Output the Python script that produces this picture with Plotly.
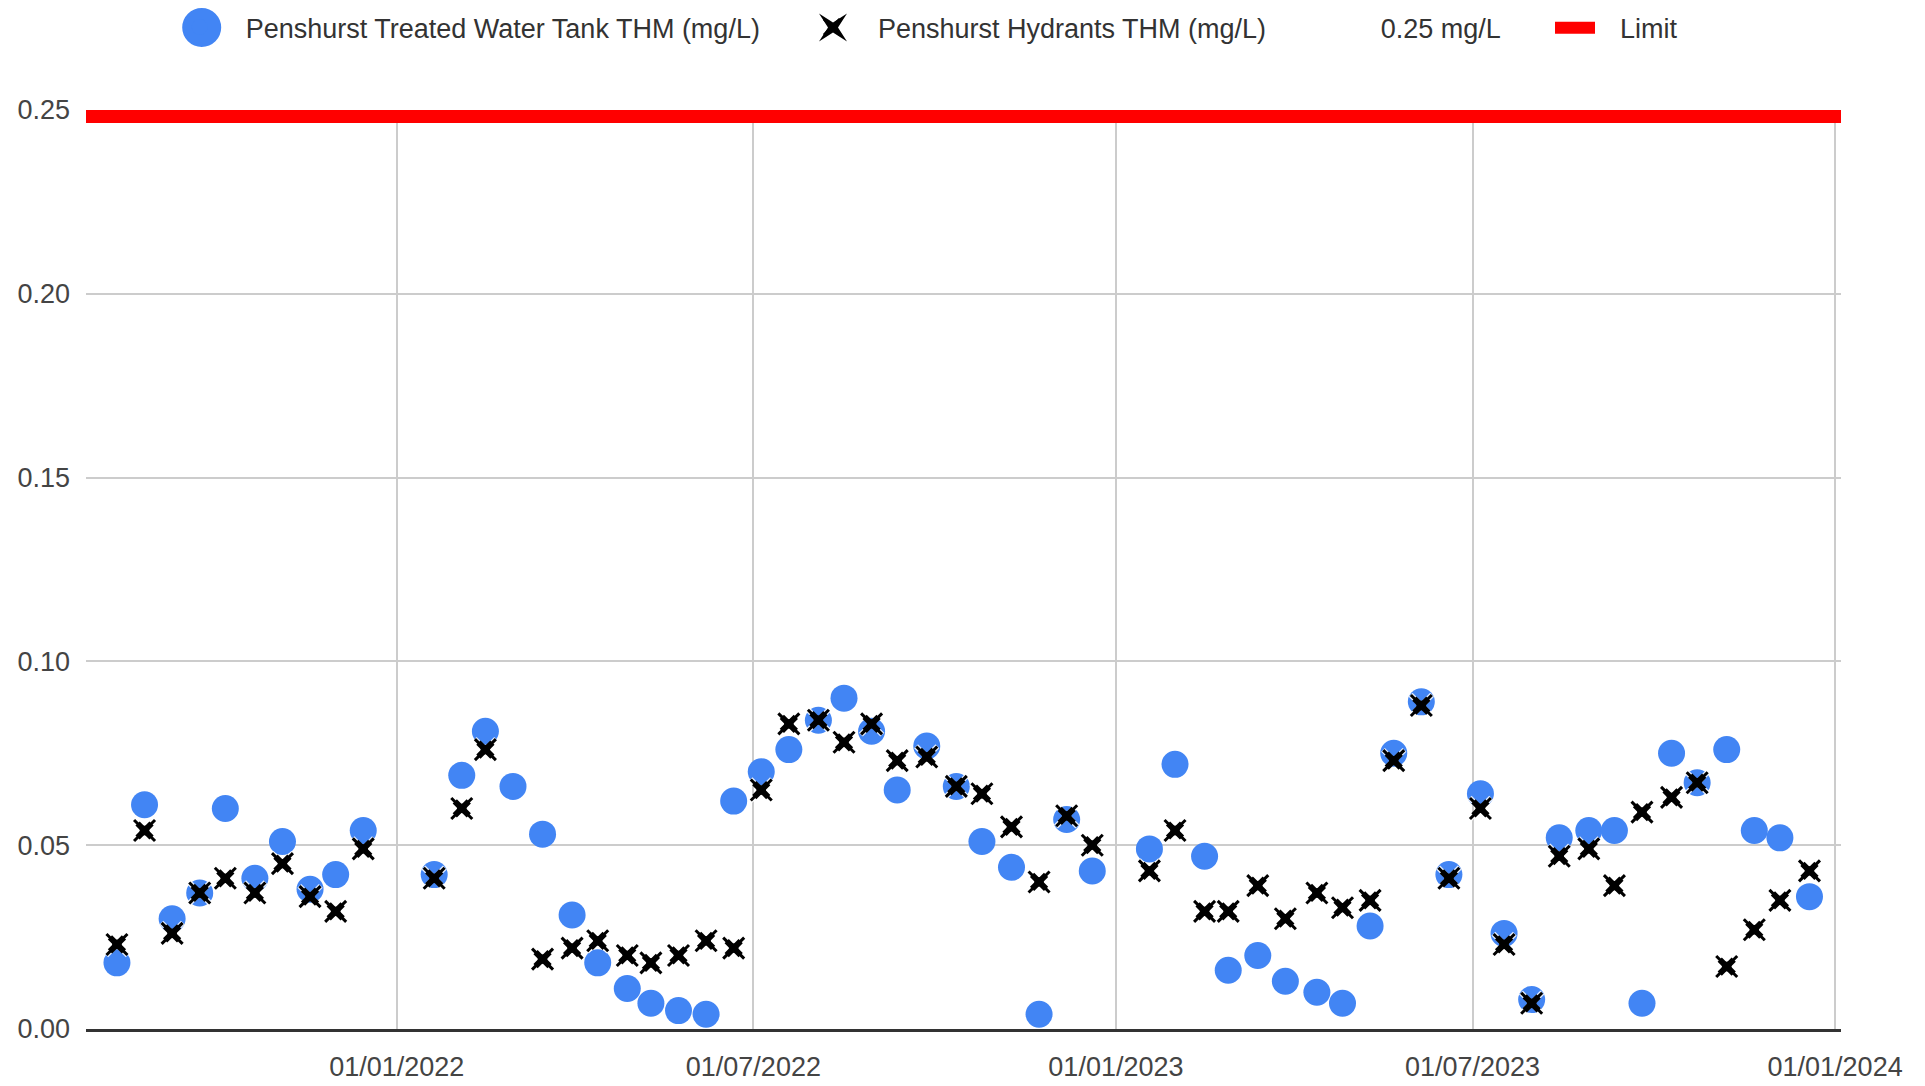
import plotly.graph_objects as go

# ---------------- data ----------------
sample_dates = [
    "2021-08-12", "2021-08-26", "2021-09-09", "2021-09-23", "2021-10-06",
    "2021-10-21", "2021-11-04", "2021-11-18", "2021-12-01", "2021-12-15",
    "2022-01-20", "2022-02-03", "2022-02-15", "2022-03-01", "2022-03-16",
    "2022-03-31", "2022-04-13", "2022-04-28", "2022-05-10", "2022-05-24",
    "2022-06-07", "2022-06-21", "2022-07-05", "2022-07-19", "2022-08-03",
    "2022-08-16", "2022-08-30", "2022-09-12", "2022-09-27", "2022-10-12",
    "2022-10-25", "2022-11-09", "2022-11-23", "2022-12-07", "2022-12-20",
    "2023-01-18", "2023-01-31", "2023-02-15", "2023-02-27", "2023-03-14",
    "2023-03-28", "2023-04-13", "2023-04-26", "2023-05-10", "2023-05-22",
    "2023-06-05", "2023-06-19", "2023-07-05", "2023-07-17", "2023-07-31",
    "2023-08-14", "2023-08-29", "2023-09-11", "2023-09-25", "2023-10-10",
    "2023-10-23", "2023-11-07", "2023-11-21", "2023-12-04", "2023-12-19",
]

tank_thm = [
    0.018, 0.061, 0.030, 0.037, 0.060, 0.041, 0.051, 0.038, 0.042, 0.054,
    0.042, 0.069, 0.081, 0.066, 0.053, 0.031, 0.018, 0.011, 0.007, 0.005,
    0.004, 0.062, 0.070, 0.076, 0.084, 0.090, 0.081, 0.065, 0.077, 0.066,
    0.051, 0.044, 0.004, 0.057, 0.043, 0.049, 0.072, 0.047, 0.016, 0.020,
    0.013, 0.010, 0.007, 0.028, 0.075, 0.089, 0.042, 0.064, 0.026, 0.008,
    0.052, 0.054, 0.054, 0.007, 0.075, 0.067, 0.076, 0.054, 0.052, 0.036,
]

hydrant_thm = [
    0.023, 0.054, 0.026, 0.037, 0.041, 0.037, 0.045, 0.036, 0.032, 0.049,
    0.041, 0.060, 0.076, None, 0.019, 0.022, 0.024, 0.020, 0.018, 0.020,
    0.024, 0.022, 0.065, 0.083, 0.084, 0.078, 0.083, 0.073, 0.074, 0.066,
    0.064, 0.055, 0.040, 0.058, 0.050, 0.043, 0.054, 0.032, 0.032, 0.039,
    0.030, 0.037, 0.033, 0.035, 0.073, 0.088, 0.041, 0.060, 0.023, 0.007,
    0.047, 0.049, 0.039, 0.059, 0.063, 0.067, 0.017, 0.027, 0.035, 0.043,
]

limit_dates = ["2021-07-01", "2024-02-01"]
limit_values = [0.25, 0.25]

x_tick_dates = ["2022-01-01", "2022-07-01", "2023-01-01", "2023-07-01", "2024-01-01"]
x_tick_labels = ["01/01/2022", "01/07/2022", "01/01/2023", "01/07/2023", "01/01/2024"]
y_tick_values = [0.00, 0.05, 0.10, 0.15, 0.20, 0.25]

series_names = [
    "Penshurst Treated Water Tank THM (mg/L)",
    "Penshurst Hydrants THM (mg/L)",
    "0.25 mg/L",
    "Limit",
]

# ---------------- style ----------------
W, H = 1925, 1086
ML, MR, MT, MB = 86, 84, 110, 57
PW, PH = W - ML - MR, H - MT - MB
FONT = "Liberation Sans, Arial, sans-serif"
BLUE = "#4285F4"
RED = "#FF0000"
TEXT = "#444444"

fig = go.Figure()

fig.add_trace(go.Scatter(
    x=sample_dates, y=tank_thm, name=series_names[0], mode="markers",
    marker=dict(symbol="circle", size=27, color=BLUE, line=dict(width=0)),
    legend="legend",
))
# hydrant "sparkle X": white halo, thin long arms, thicker short arms, solid centre
fig.add_trace(go.Scatter(
    x=sample_dates, y=hydrant_thm, name=series_names[1], mode="markers",
    marker=dict(symbol="x-thin", size=21.5, color="#ffffff",
                line=dict(width=5.5, color="rgba(255,255,255,0.85)")),
    showlegend=False, hoverinfo="skip",
))
fig.add_trace(go.Scatter(
    x=sample_dates, y=hydrant_thm, name=series_names[1], mode="markers",
    marker=dict(symbol="x-thin", size=21, color="#000000",
                line=dict(width=3, color="#000000")),
    legend="legend2",
))
fig.add_trace(go.Scatter(
    x=sample_dates, y=hydrant_thm, name=series_names[1], mode="markers",
    marker=dict(symbol="x-thin", size=14, color="#000000",
                line=dict(width=6, color="#000000")),
    showlegend=False, hoverinfo="skip",
))
fig.add_trace(go.Scatter(
    x=sample_dates, y=hydrant_thm, name=series_names[1], mode="markers",
    marker=dict(symbol="star-diamond", angle=45, size=13.5, color="#000000",
                line=dict(width=0)),
    showlegend=False, hoverinfo="skip",
))
fig.add_trace(go.Scatter(
    x=limit_dates, y=limit_values, name=series_names[2], mode="lines",
    line=dict(width=0, color="rgba(0,0,0,0)"),
    legend="legend3",
))
fig.add_trace(go.Scatter(
    x=limit_dates, y=limit_values, name=series_names[3], mode="lines",
    line=dict(width=26, color=RED), showlegend=False,
))
# legend entry for the limit line (square key as in the original)
fig.add_trace(go.Scatter(
    x=[None], y=[None], name=series_names[3], mode="markers",
    marker=dict(symbol="square", size=10, color=RED),
    legend="legend4",
))

ITEMW = 82
LEG_Y = 1 - 27.5 / H


def legend_cfg(x_px):
    return dict(
        x=x_px / W, xref="container", xanchor="left",
        y=LEG_Y, yref="container", yanchor="middle",
        orientation="h", itemwidth=ITEMW, bgcolor="rgba(0,0,0,0)",
        borderwidth=0, font=dict(family=FONT, size=27, color="#333333"),
        itemclick=False, itemdoubleclick=False,
    )


def px_to_paper_x(px):
    return (px - ML) / PW


def px_to_paper_y(py):
    return (H - MB - py) / PH


# enlarged legend keys (Plotly caps legend symbols at 16px)
shapes = [
    dict(type="circle", xref="paper", yref="paper", xsizemode="pixel", ysizemode="pixel",
         xanchor=px_to_paper_x(201.7), yanchor=px_to_paper_y(27.5),
         x0=-19.5, x1=19.5, y0=-19.5, y1=19.5,
         fillcolor=BLUE, line=dict(width=0), layer="above"),
    dict(type="path", xref="paper", yref="paper", xsizemode="pixel", ysizemode="pixel",
         xanchor=px_to_paper_x(833), yanchor=px_to_paper_y(27.5),
         path="M14,14 L0,5 L-14,14 L-5,0 L-14,-14 L0,-5 L14,-14 L5,0 Z",
         fillcolor="#000000", line=dict(width=0), layer="above"),
    dict(type="rect", xref="paper", yref="paper", xsizemode="pixel", ysizemode="pixel",
         xanchor=px_to_paper_x(1575), yanchor=px_to_paper_y(27.8),
         x0=-20, x1=20, y0=-6, y1=6,
         fillcolor=RED, line=dict(width=0), layer="above"),
]

fig.update_layout(
    width=W, height=H,
    margin=dict(l=ML, r=MR, t=MT, b=MB, pad=0, autoexpand=False),
    paper_bgcolor="#ffffff", plot_bgcolor="#ffffff",
    font=dict(family=FONT, size=27, color=TEXT),
    showlegend=True,
    legend=legend_cfg(153.7),
    legend2=legend_cfg(786),
    legend3=legend_cfg(1288.7),
    legend4=legend_cfg(1528),
    shapes=shapes,
    xaxis=dict(
        type="date", range=["2021-07-27 07:00", "2024-01-04 00:00"],
        tickmode="array", tickvals=x_tick_dates, ticktext=x_tick_labels,
        showgrid=True, gridcolor="#cccccc", gridwidth=2,
        showline=True, linecolor="#333333", linewidth=3,
        zeroline=False, ticks="", ticklabelstandoff=12, automargin=False,
        tickfont=dict(family=FONT, size=27, color=TEXT),
        fixedrange=True,
    ),
    yaxis=dict(
        range=[0, 0.25], tickmode="array", tickvals=y_tick_values, tickformat=".2f",
        showgrid=True, gridcolor="#cccccc", gridwidth=2,
        zeroline=False, showline=False, ticks="", ticklabelstandoff=15, automargin=False,
        tickfont=dict(family=FONT, size=27, color=TEXT),
        fixedrange=True,
    ),
)

fig.write_html(
    "out.html",
    config={"displayModeBar": False},
    post_script="document.body.style.margin='0';document.body.style.overflow='hidden';",
)
